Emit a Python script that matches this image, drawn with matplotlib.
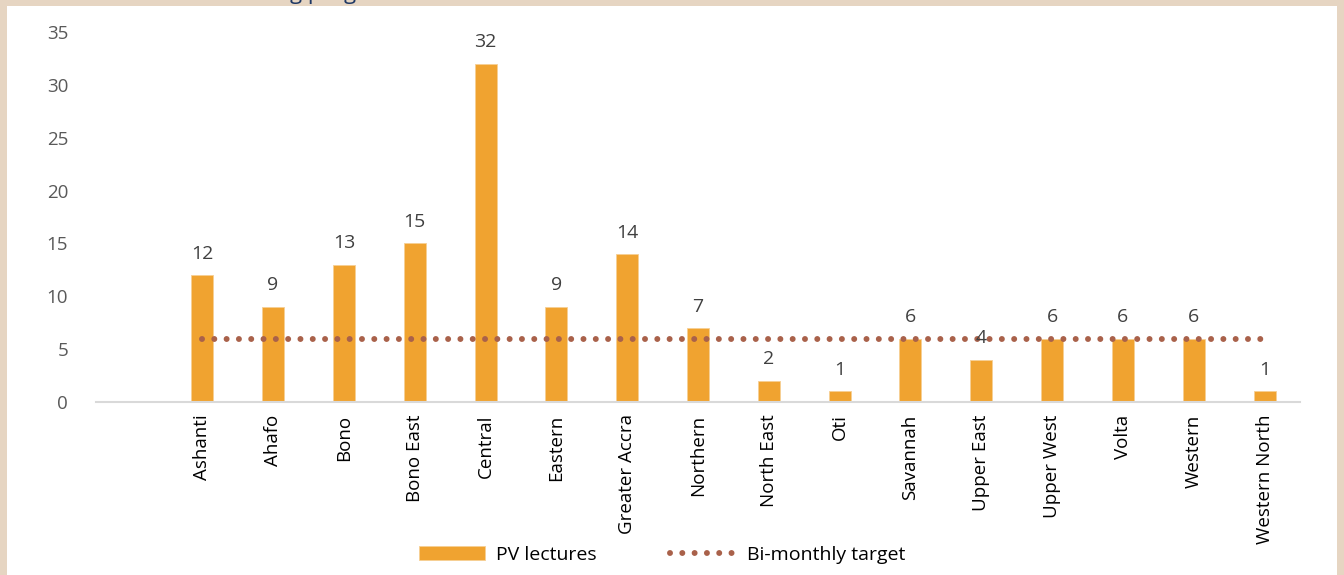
import matplotlib
matplotlib.use("Agg")
import matplotlib.pyplot as plt
from matplotlib.patches import Rectangle

plt.rcParams['font.family'] = ['Open Sans', 'DejaVu Sans']
plt.rcParams['lines.scale_dashes'] = False

regions = ["Ashanti", "Ahafo", "Bono", "Bono East", "Central", "Eastern",
           "Greater Accra", "Northern", "North East", "Oti", "Savannah",
           "Upper East", "Upper West", "Volta", "Western", "Western North"]
pv_lectures = [12, 9, 13, 15, 32, 9, 14, 7, 2, 1, 6, 4, 6, 6, 6, 1]
target = [6] * len(regions)
y_ticks = [0, 5, 10, 15, 20, 25, 30, 35]

BAR = "#F0A330"
TARGET = "#A9614A"

fig = plt.figure(figsize=(13.44, 5.75), dpi=100)
fig.patch.set_facecolor("#E6D5C2")
fig.add_artist(Rectangle((7 / 1344, 0), 1330 / 1344, 569 / 575,
                         transform=fig.transFigure, facecolor="white",
                         edgecolor="none", zorder=0))
fig.text(290 / 1344, 1 + 1 / 575, "g progress", fontsize=16, color="#1F3864",
         va="baseline", ha="left")

ax = fig.add_axes([96 / 1344, (575 - 402) / 575, 1204 / 1344, 370 / 575])
ax.set_facecolor("none")
x = list(range(len(regions)))
bars = ax.bar(x, pv_lectures, width=0.31, color=BAR, edgecolor="#F6CF94",
              linewidth=0.6, label="PV lectures", zorder=2)
line, = ax.plot(x, target, color=TARGET, linewidth=4.3, dashes=(0.01, 8.85),
                dash_capstyle="round", label="Bi-monthly target", zorder=3)

for xi, v in zip(x, pv_lectures):
    ax.annotate(str(v), (xi, v), xytext=(0, 9), textcoords="offset points",
                ha="center", va="bottom", fontsize=14, color="#404040")

ax.set_xlim(-1.5, 15.5)
ax.set_ylim(0, 35)
ax.set_yticks(y_ticks)
ax.set_yticklabels([str(t) for t in y_ticks], fontsize=13.5, color="#595959")
ax.set_xticks(x)
ax.set_xticklabels(regions, rotation=90, fontsize=13.5, color="black")
ax.tick_params(axis="y", length=0, pad=20)
ax.tick_params(axis="x", length=0, pad=9)
for s in ["top", "right", "left"]:
    ax.spines[s].set_visible(False)
ax.spines["bottom"].set_color("#D9D9D9")
ax.spines["bottom"].set_linewidth(1.5)

fig.legend([bars, line], ["PV lectures", "Bi-monthly target"],
           loc="center", bbox_to_anchor=(662 / 1344, 20 / 575), ncol=2,
           frameon=False, fontsize=14, handlelength=3.4, handleheight=0.7,
           handletextpad=0.55, columnspacing=3.8)

fig.savefig("out.png", dpi=100, facecolor=fig.get_facecolor())
